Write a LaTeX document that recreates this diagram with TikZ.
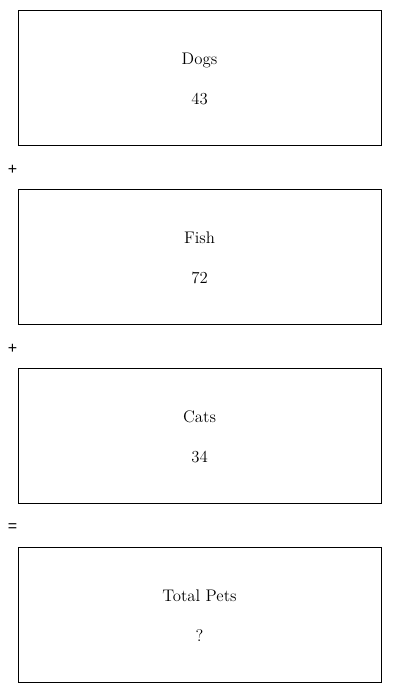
\documentclass[tikz,border=0pt]{standalone}
\usepackage{fontspec}
\newfontfamily\opfont{Liberation Sans}
\tikzset{petbox/.style={rectangle,draw,line width=.75pt,minimum width=272.25pt,minimum height=101.25pt,inner sep=0pt,outer sep=0pt},
  petname/.style={anchor=base,font=\fontsize{12.6}{14}\selectfont,inner sep=0pt},
  petop/.style={font=\opfont\fontsize{12}{14}\selectfont,inner sep=0pt}}
\begin{document}
\begin{tikzpicture}[x=.75pt,y=-.75pt]
  \path[use as bounding box] (0,0) rectangle (400,693);
  \node[petbox] (dogs) at (199.5,77.5) {};
  \node[petname] (dogsname) at (199.5,64.5) {Dogs};
  \node[petname] (dogsnum) at (199.5,104.5) {43};
  \node[petop] (plusa) at (12.5,169.5) {+};
  \node[petbox] (fish) at (199.5,256.5) {};
  \node[petname] (fishname) at (199.5,243.5) {Fish};
  \node[petname] (fishnum) at (199.5,283.5) {72};
  \node[petop] (plusb) at (12.5,348.5) {+};
  \node[petbox] (cats) at (199.5,435.5) {};
  \node[petname] (catsname) at (199.5,422.5) {Cats};
  \node[petname] (catsnum) at (199.5,462.5) {34};
  \node[petop] (equals) at (12.5,528) {=};
  \node[petbox] (total) at (199.5,614.5) {};
  \node[petname] (totalname) at (199.5,601.5) {Total Pets};
  \node[petname] (totalnum) at (199.5,641.5) {?};
\end{tikzpicture}
\end{document}
